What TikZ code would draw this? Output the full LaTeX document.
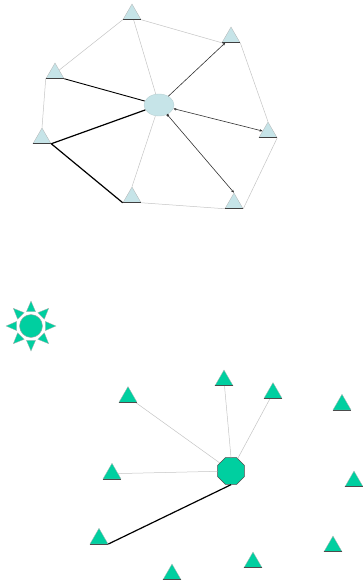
\documentclass[tikz,border=0pt]{standalone}
\usetikzlibrary{shapes.geometric,arrows.meta}

\definecolor{paleblue}{HTML}{C6E4E8}
\definecolor{seagreen}{HTML}{00CFA0}
\definecolor{linegray}{HTML}{C4C4C4}

\begin{document}
\begin{tikzpicture}[x=1pt,y=-1pt,
  tri/.style={regular polygon, regular polygon sides=3, minimum size=20.8pt,
    inner sep=0pt, draw=gray!60, line width=0.3pt},
  blue tri/.style={tri, fill=paleblue},
  green tri/.style={tri, fill=seagreen},
  thin edge/.style={linegray, line width=0.5pt},
  dark edge/.style={black!80, line width=0.6pt},
  heavy edge/.style={black, line width=1.2pt},
  tip/.style={-{Stealth[length=3pt,width=2.5pt]}}]

\useasboundingbox (0,0) rectangle (362,580);

% Upper network
\node[ellipse, fill=paleblue, draw=paleblue!80!gray, minimum width=30pt,
  minimum height=22pt, inner sep=0pt] (hub) at (159,105) {};
\node[blue tri] (ta) at (132,14.4) {};
\node[blue tri] (tb) at (231,37.4) {};
\node[blue tri] (tc) at (55,73.4) {};
\node[blue tri] (td) at (42,138.4) {};
\node[blue tri] (te) at (268,132.4) {};
\node[blue tri] (tf) at (132,197.4) {};
\node[blue tri] (tg) at (234,203.4) {};

% Ring
\draw[thin edge] (ta.corner 3) -- (tb.corner 2);
\draw[thin edge] (ta.corner 2) -- (tc);
\draw[thin edge] (tc.corner 2) -- (td.corner 1);
\draw[thin edge] (tb.corner 3) -- (te.corner 1);
\draw[thin edge] (te.corner 3) -- (tg.corner 3);
\draw[thin edge] (tg.corner 2) -- (tf.corner 3);
\draw[thin edge] (ta) -- (hub);
\draw[thin edge] (tf.corner 1) -- (hub);

% Links to the hub
\draw[heavy edge, line width=0.9pt] (tc.corner 3) -- (hub);
\draw[heavy edge] (td.corner 3) -- (hub);
\draw[heavy edge] (td.corner 3) -- (tf.corner 2);
\draw[dark edge, tip] (hub) -- (tb);
\draw[dark edge, {Stealth[length=3pt,width=2.5pt]}-{Stealth[length=3pt,width=2.5pt]}] (hub) -- (te);
\draw[dark edge, {Square[length=2pt,width=2pt]}-{Stealth[length=3pt,width=2.5pt]}] (hub) -- (tg.corner 1);

% Dark base lines
\foreach \t in {ta,tb,tc,td,te,tf,tg}
  \draw[black!75, line width=1pt] (\t.corner 2) -- (\t.corner 3);

% Sun
\foreach \a in {0,45,...,315}
  \draw[fill=seagreen, draw=gray!60, line width=0.3pt, shift={(31,326)}]
    (\a:25) -- (\a+18:15) -- (\a-18:15) -- cycle;
\node[circle, fill=seagreen, draw=gray!70, line width=0.4pt, minimum size=23pt,
  inner sep=0pt] (sun) at (31,326) {};

% Lower network
\node[regular polygon, regular polygon sides=8, minimum size=29pt, inner sep=0pt,
  fill=seagreen, draw=black!70, line width=0.6pt] (oct) at (231,471) {};
\node[green tri] (s1) at (128,397) {};
\node[green tri] (s2) at (224,380.4) {};
\node[green tri] (s3) at (273,393) {};
\node[green tri] (s4) at (342,404.7) {};
\node[green tri] (s5) at (112,473.7) {};
\node[green tri] (s6) at (354,481.4) {};
\node[green tri] (s7) at (99,538.7) {};
\node[green tri] (s8) at (333,546.4) {};
\node[green tri] (s9) at (253,562.4) {};
\node[green tri] (s10) at (172,574.4) {};

\draw[thin edge] (s1) -- (oct);
\draw[thin edge] (s2) -- (oct.north);
\draw[thin edge] (s3) -- (oct);
\draw[thin edge] (s5) -- (oct);
\draw[heavy edge] (s7.corner 3) -- (oct.south);

\foreach \t in {s1,s2,s3,s4,s5,s6,s7,s8,s9,s10}
  \draw[black!70, line width=1pt] (\t.corner 2) -- (\t.corner 3);

\end{tikzpicture}
\end{document}
